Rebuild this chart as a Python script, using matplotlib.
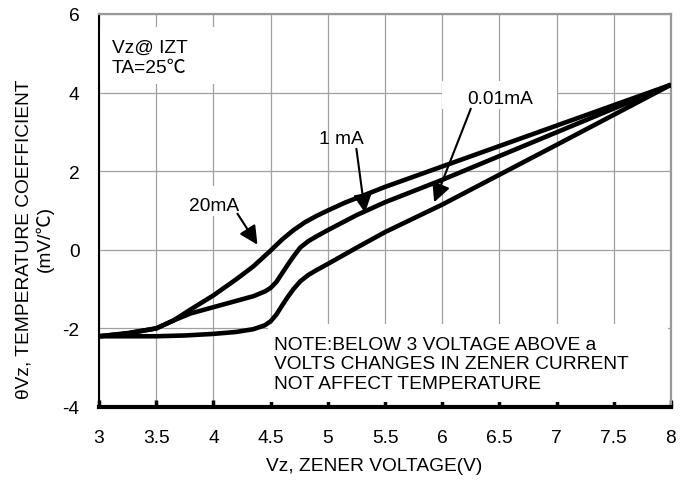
import matplotlib
matplotlib.use("Agg")
import matplotlib.pyplot as plt
from matplotlib.patches import Rectangle

plt.rcParams['font.family'] = ['Liberation Sans', 'Noto Sans CJK JP', 'DejaVu Sans']
plt.rcParams['font.size'] = 13.8
plt.rcParams['axes.unicode_minus'] = False

# zener temperature coefficient curves
vz_20mA = [3.0, 3.25, 3.5, 3.65, 3.8, 4.0, 4.2, 4.35, 4.5, 4.6, 4.7, 4.8, 4.9, 5.0,
           5.15, 5.3, 5.5, 6.0, 7.0, 8.0]
tc_20mA = [-2.2, -2.13, -2.0, -1.8, -1.52, -1.16, -0.75, -0.42, -0.02, 0.26, 0.5, 0.7, 0.86, 1.0,
           1.2, 1.37, 1.6, 2.12, 3.16, 4.2]

vz_1mA = [3.0, 3.25, 3.5, 3.65, 3.8, 4.0, 4.2, 4.35, 4.45, 4.5, 4.55, 4.6, 4.65, 4.7,
          4.76, 4.83, 4.9, 5.0, 5.25, 5.5, 6.0, 7.0, 8.0]
tc_1mA = [-2.2, -2.12, -2.0, -1.8, -1.62, -1.46, -1.3, -1.18, -1.06, -0.97, -0.82, -0.6, -0.38, -0.17,
          0.06, 0.22, 0.34, 0.5, 0.88, 1.21, 1.78, 2.99, 4.2]

vz_001mA = [3.0, 3.5, 3.75, 4.0, 4.2, 4.35, 4.45, 4.5, 4.55, 4.6, 4.65, 4.7, 4.76, 4.83,
            4.9, 5.0, 5.25, 5.5, 6.0, 7.0, 8.0]
tc_001mA = [-2.2, -2.2, -2.18, -2.14, -2.09, -2.02, -1.92, -1.82, -1.65, -1.42, -1.2, -1.0, -0.8, -0.64,
            -0.52, -0.36, 0.05, 0.45, 1.15, 2.67, 4.2]

x_ticks = [3, 3.5, 4, 4.5, 5, 5.5, 6, 6.5, 7, 7.5, 8]
x_labels = ["3", "3.5", "4", "4.5", "5", "5.5", "6", "6.5", "7", "7.5", "8"]
y_ticks = [-4, -2, 0, 2, 4, 6]

# label text, arrow start, arrow tip
labels = [
    ("20mA", (4.01, 1.13), (4.21, 0.92), (4.385, 0.13)),
    ("1 mA", (5.12, 2.82), (5.25, 2.57), (5.325, 0.94)),
    ("0.01mA", (6.505, 3.84), (6.25, 3.59), (5.93, 1.21)),
]

fig = plt.figure(figsize=(6.9, 4.81), dpi=100)
ax = fig.add_axes([99 / 690, 73 / 481, 572 / 690, 393 / 481])
ax.set_axisbelow(True)

for xs, ys in [(vz_20mA, tc_20mA), (vz_1mA, tc_1mA), (vz_001mA, tc_001mA)]:
    ax.plot(xs, ys, color="black", lw=3.3, solid_joinstyle="round", solid_capstyle="butt", zorder=3)

ax.set_xlim(3, 8)
ax.set_ylim(-4, 6)
ax.set_xticks(x_ticks)
ax.set_xticklabels(x_labels)
ax.set_yticks(y_ticks)
ax.grid(True, color="#a0a0a0", lw=0.9)

ax.tick_params(axis="x", direction="in", length=5, width=2.5, pad=16)
ax.tick_params(axis="y", length=0, pad=14)

ax.spines["bottom"].set_linewidth(3)
ax.spines["left"].set_linewidth(1.5)
for s in ["top", "right"]:
    ax.spines[s].set_color("#999999")
    ax.spines[s].set_linewidth(1.6)

# white text boxes covering the grid
for (x0, y0, w, h) in [(3.0, 4.22, 1.05, 1.45), (5.995, 3.59, 1.01, 0.71),
                       (3.82, 0.87, 0.38, 0.76), (4.48, -3.87, 3.49, 1.99)]:
    ax.add_patch(Rectangle((x0, y0), w, h, facecolor="white", edgecolor="none", zorder=1))

ax.text(3.114, 4.90, "Vz@ IZT\nTA=25℃", ha="left", va="center", zorder=4)

for txt, pos, start, tip in labels:
    ax.text(pos[0], pos[1], txt, ha="center", va="center", zorder=4)
    ax.annotate("", xy=tip, xytext=start,
                arrowprops=dict(arrowstyle="-|>", color="black", lw=1.5,
                                mutation_scale=28, shrinkA=0, shrinkB=0), zorder=4)

ax.text(4.53, -2.90, "NOTE:BELOW 3 VOLTAGE ABOVE a\nVOLTS CHANGES IN ZENER CURRENT\nNOT AFFECT TEMPERATURE",
        ha="left", va="center", zorder=4)

fig.text(35 / 690, 1 - 239 / 481, "θVz, TEMPERATURE COEFFICIENT\n(mV/℃)", rotation=90,
         ha="center", va="center", multialignment="center")
fig.text(374.5 / 690, 1 - 467 / 481, "Vz, ZENER VOLTAGE(V)", ha="center", va="center")

fig.savefig("out.png", dpi=100)
